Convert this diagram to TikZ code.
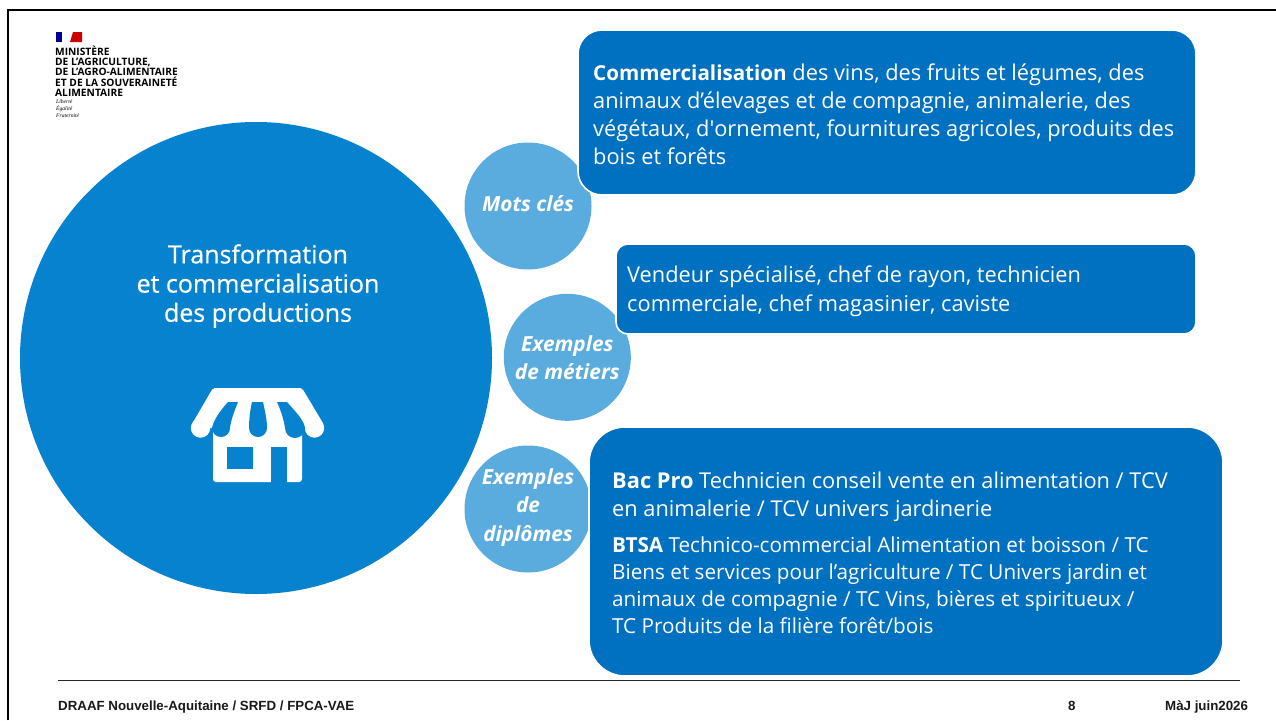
\documentclass[tikz,border=0pt]{standalone}
\usepackage{fontspec}
\setmainfont{Open Sans}
\newfontfamily\plainf{Open Sans}
\newfontfamily\footfont{Liberation Sans}
\newfontfamily\devisefont{Liberation Serif}
\newfontfamily\titlefont[RawFeature={embolden=0.6}]{Open Sans}
\definecolor{bigblue}{HTML}{0782CF}
\definecolor{lightblue}{HTML}{5BACDE}
\definecolor{boxblue}{HTML}{0070C0}
\newcommand{\bd}[1]{{\fontsize{20.6}{20.6}\selectfont\bfseries #1}}
\tikzset{
 x=1pt,y=-1pt,
 circ/.style={circle,fill=lightblue,inner sep=0pt,minimum size=#1},
 circtxt/.style={text=white,inner sep=0pt,align=center,font=\fontsize{20.8}{28.3}\selectfont\bfseries\itshape},
 bubble/.style={draw=white,line width=1.6pt,fill=boxblue},
 bodytxt/.style={text=white,anchor=north west,align=left,inner sep=0pt,font=\fontsize{21.8}{#1}\selectfont},
 foot/.style={anchor=base west,inner sep=0pt,font=\footfont\fontsize{13.3}{15}\selectfont\bfseries,text=black!90},
}
\begin{document}
\begin{tikzpicture}
\useasboundingbox (0,0) rectangle (1276,720);
\fill[white] (0,0) rectangle (1276,720);
\draw[black,line width=2pt] (7.5,720) -- (7.5,9.5) -- (1276,9.5);
% logo
\fill[blue!60!black] (56,32) rectangle (66,42);
\fill[white] (62,32) rectangle (66,42);
\fill[red!80!black] (70,42) -- (73,32) -- (82,32) -- (82,42) -- cycle;
\node[anchor=north west,inner sep=0pt,align=left,font=\fontsize{10.2}{10.3}\selectfont\bfseries] (logo) at (55,45.5) {MINISTÈRE\\DE L’AGRICULTURE,\\DE L’AGRO-ALIMENTAIRE\\ET DE LA SOUVERAINETÉ\\ALIMENTAIRE};
\node[anchor=north west,inner sep=0pt,align=left,font=\devisefont\fontsize{5.6}{7}\selectfont\itshape] (devise) at (56,99) {Liberté\\Égalité\\Fraternité};
% circles
\node[circle,fill=bigblue,inner sep=0pt,minimum size=472pt] (main) at (256,358) {};
\node[text=white,align=center,font=\titlefont\fontsize{25}{29.2}\selectfont] (title) at (258,286) {Transformation\\et commercialisation\\des productions};
% shop icon
\fill[white,rounded corners=3pt] (213,388) rectangle (302,482);
\fill[white,rounded corners=2pt] (213,388) -- (302,388) -- (323.5,424) -- (314,428) -- (200,428) -- (192,424) -- cycle;
\fill[white] (200.5,428) circle (9.7) (314.5,428) circle (9.7);
\fill[bigblue] (228,402) -- (238,402) .. controls (234,412) and (231,420) .. (230,428) arc (0:180:9) .. controls (214,419) and (220,411) .. cycle;
\fill[bigblue] (252,402) -- (263,402) .. controls (265,411) and (267,420) .. (267,428) arc (0:180:9) .. controls (249,420) and (250,411) .. cycle;
\fill[bigblue] (277,402) -- (287,402) .. controls (295,411) and (304,420) .. (305,428) arc (0:180:10) .. controls (284,420) and (281,411) .. cycle;
\fill[bigblue] (227,447) rectangle (253,469);
\fill[bigblue] (271,447) rectangle (287,482.5);
% small circles
\node[circ=127pt] (mots) at (528,206) {};
\node[circ=127pt] (metiers) at (567.3,357.3) {};
\node[circ=127pt] (diplomes) at (528,509) {};
\node[circtxt] (motst) at (528,203.5) {Mots clés};
\node[circtxt] (metierst) at (567.3,358) {Exemples\\de métiers};
\node[circtxt] (diplomest) at (528,507.5) {Exemples\\de\\diplômes};
% boxes
\draw[bubble,rounded corners=24pt] (578,30) rectangle (1196,195);
\node[bodytxt=27.9] (t1) at (593,64) {\bd{Commercialisation} des vins, des fruits et légumes, des\\animaux d’élevages et de compagnie, animalerie, des\\végétaux, d{\plainf '}ornement, fournitures agricoles, produits des\\bois et forêts};
\draw[bubble,rounded corners=12pt] (616,244) rectangle (1196,334);
\node[bodytxt=29] (t2) at (627,266) {Vendeur spécialisé, chef de rayon, technicien\\commerciale, chef magasinier, caviste};
\draw[bubble,rounded corners=36pt] (589,427) rectangle (1223,676);
\node[bodytxt=28] (t3) at (612,472) {\textbf{Bac Pro} Technicien conseil vente en alimentation / TCV\\en animalerie / TCV univers jardinerie};
\node[bodytxt=27,font=\fontsize{20.7}{27}\selectfont] (t4) at (612,537) {\textbf{BTSA} Technico-commercial Alimentation et boisson / TC\\Biens et services pour l’agriculture / TC Univers jardin et\\animaux de compagnie / TC Vins, bières et spiritueux /\\TC Produits de la filière forêt/bois};
% footer
\coordinate (ruleL) at (58,680.5);
\coordinate (ruleR) at (1240,680.5);
\draw[black!85,line width=1.2pt] (ruleL) -- (ruleR);
\node[foot] (f1) at (58,710) {DRAAF Nouvelle-Aquitaine / SRFD / FPCA-VAE};
\node[foot] (f2) at (1068,710) {8};
\node[foot] (f3) at (1165,710) {MàJ juin2026};
\end{tikzpicture}
\end{document}
